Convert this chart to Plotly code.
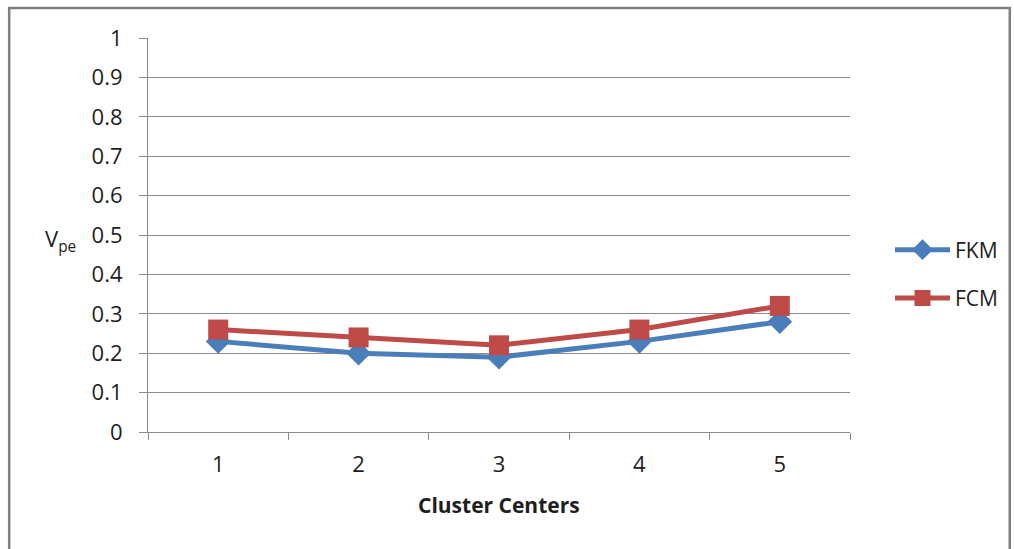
import plotly.graph_objects as go

# Cluster count on the x axis, partition-entropy index V_pe per method
clusters = ["1", "2", "3", "4", "5"]
fkm_vpe = [0.23, 0.20, 0.19, 0.23, 0.28]
fcm_vpe = [0.26, 0.24, 0.22, 0.26, 0.32]
y_ticks = [0, 0.1, 0.2, 0.3, 0.4, 0.5, 0.6, 0.7, 0.8, 0.9, 1]

FONT = "Open Sans, Liberation Sans, sans-serif"
GRID = "#8c8c8c"
TXT = "#1e1e1e"

fig = go.Figure()
fig.add_trace(go.Scatter(
    x=clusters, y=fkm_vpe, name="FKM", mode="lines+markers", legendgroup="a",
    line=dict(color="#4a7ebb", width=5),
    marker=dict(symbol="diamond", size=19, color="#4a7ebb"),
))
fig.add_trace(go.Scatter(
    x=clusters, y=fcm_vpe, name="FCM", mode="lines+markers", legendgroup="b",
    line=dict(color="#be4b48", width=5),
    marker=dict(symbol="square", size=20, color="#be4b48"),
))

L, R, T, B = 148, 163, 38, 117
W, H = 1014, 549
pw, ph = W - L - R, H - T - B


def px(x):
    return (x - L) / pw


def py(y):
    return (H - B - y) / ph


fig.update_layout(
    width=W, height=H,
    margin=dict(l=L, r=R, t=T, b=B),
    paper_bgcolor="white", plot_bgcolor="white",
    font=dict(family=FONT, size=22, color=TXT),
    showlegend=True,
    legend=dict(x=px(890), y=py(274), xanchor="left", yanchor="middle",
                font=dict(size=21, color=TXT), itemwidth=55,
                tracegroupgap=18, bgcolor="rgba(0,0,0,0)"),
    xaxis=dict(
        type="category", range=[-0.5, 4.5], tickson="boundaries",
        ticks="outside", ticklen=7, tickcolor=GRID, tickwidth=1.2,
        showline=True, linecolor=GRID, linewidth=1.2, showgrid=False,
        tickfont=dict(size=22, color=TXT), ticklabelstandoff=12,
    ),
    yaxis=dict(
        range=[0, 1], tickvals=y_ticks, ticktext=[f"{v:g}" for v in y_ticks],
        ticks="outside", ticklen=8, tickcolor=GRID, tickwidth=1.2,
        showline=True, linecolor=GRID, linewidth=1.2,
        showgrid=True, gridcolor=GRID, gridwidth=1.2, zeroline=False,
        tickfont=dict(size=22, color=TXT), ticklabelstandoff=12,
    ),
    shapes=[dict(type="rect", xref="paper", yref="paper",
                 x0=px(9), x1=px(1011), y0=py(8), y1=py(560),
                 line=dict(color="#7f7f7f", width=2.5))],
    annotations=[
        dict(text="V<sub>pe</sub>", xref="paper", yref="paper",
             x=px(60), y=py(240), showarrow=False,
             font=dict(size=22, color=TXT), xanchor="center", yanchor="middle"),
        dict(text="<b>Cluster Centers</b>", xref="paper", yref="paper",
             x=0.5, y=py(505), showarrow=False,
             font=dict(size=21, color=TXT), xanchor="center", yanchor="middle"),
    ],
)

fig.write_html("out.html")
